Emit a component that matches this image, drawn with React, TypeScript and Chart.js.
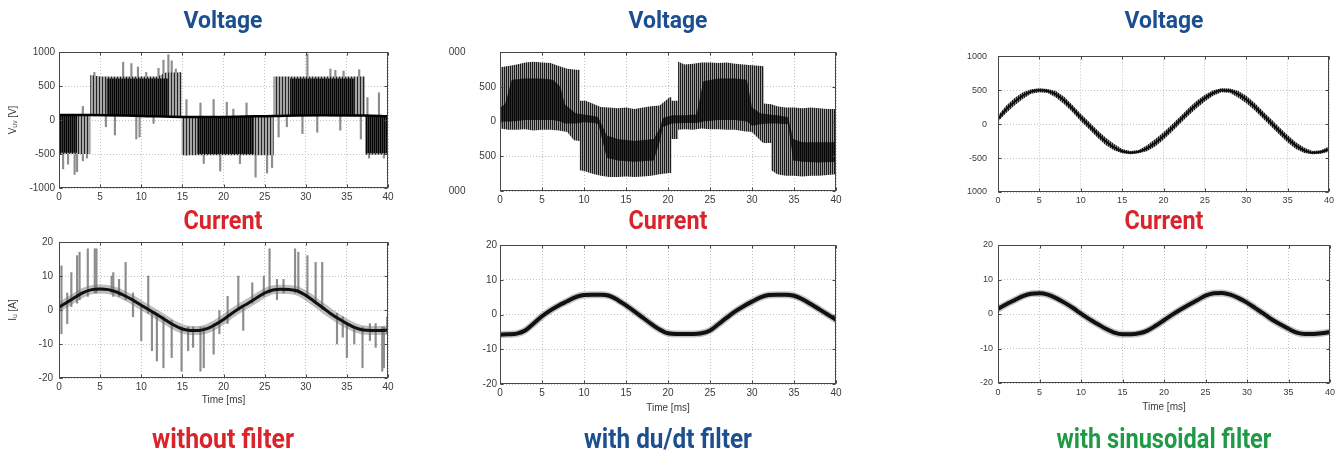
import React, { useEffect, useRef } from 'react';
import { Chart, registerables } from 'chart.js';

Chart.register(...registerables);

// ---------------- shared axis data ----------------
const timeTicks = [0, 5, 10, 15, 20, 25, 30, 35, 40];
const timeTickLabels = ['0', '5', '10', '15', '20', '25', '30', '35', '40'];
const voltTicks = [-1000, -500, 0, 500, 1000];
const voltTickLabelsLeft = ['-1000', '-500', '0', '500', '1000'];
const voltTickLabelsMid = ['000', '500', '0', '500', '000'];
const voltTickLabelsRight = ['1000', '-500', '0', '500', '1000'];
const currTicks = [-20, -10, 0, 10, 20];
const currTickLabels = ['-20', '-10', '0', '10', '20'];
const ms = [0, 1, 2, 3, 4, 5, 6, 7, 8, 9, 10, 11, 12, 13, 14, 15, 16, 17, 18, 19, 20,
  21, 22, 23, 24, 25, 26, 27, 28, 29, 30, 31, 32, 33, 34, 35, 36, 37, 38, 39, 40];

// ---------------- text ----------------
const voltageTitle = 'Voltage';
const currentTitle = 'Current';
const filterLabels = ['without filter', 'with du/dt filter', 'with sinusoidal filter'];
const timeTitle = 'Time [ms]';
const voltAxisTitle = 'V\u1D64\u1D65 [V]';
const currAxisTitle = 'I\u1D64 [A]';

// ---------------- panel 1: voltage, without filter ----------------
const p1OuterT = [0, 3.8, 3.8, 5, 12, 13, 14.9, 14.9, 26.1, 26.1, 37.2, 37.2, 40];
const p1OuterHi = [90, 90, 660, 640, 640, 700, 700, 50, 60, 640, 640, 70, 70];
const p1OuterLo = [-500, -500, 60, 60, 55, 50, 45, -520, -520, 60, 60, -510, -510];
const p1CoreT = [0, 2.2, 2.2, 5.8, 5.8, 13.3, 13.3, 16.8, 16.8, 23.7, 23.7, 28.1, 28.1, 35.9, 35.9, 37.3, 37.3, 40];
const p1CoreHi = [80, 80, 60, 60, 610, 610, 50, 50, 50, 50, 55, 55, 610, 610, 60, 60, 60, 60];
const p1CoreLo = [-480, -480, 60, 60, 60, 60, 50, 50, -500, -500, 55, 55, 60, 60, 60, 60, -490, -490];
const p1BaseT = [0, 3.8, 10, 14.9, 20, 26.1, 32, 37.2, 40];
const p1BaseV = [75, 75, 60, 45, 45, 60, 70, 65, 55];
const p1SpikeT = [0.5, 1.1, 1.9, 2.2, 2.9, 3.4, 4.3, 5.7, 6.8, 7.8, 8.8, 9.4, 9.6, 9.8, 10.6, 11.5, 12.1, 12.7, 13.3, 13.7,
  14.2, 14.7, 15.5, 17.2, 17.6, 18.8, 19.6, 20.4, 21.2, 22.0, 22.8, 23.9, 25.3, 25.9, 26.7, 27.7, 29.6, 30.2, 31.4, 33.0,
  33.6, 34.2, 34.6, 36.5, 36.7, 37.5, 37.7, 38.9, 39.5];
const p1SpikeLo = [-720, -650, -800, -760, -600, -560, 60, -100, -220, 60, 60, -280, 60, -250, 60, -50, 60, 60, 60, 60,
  60, 60, -520, -500, -640, -500, -750, -500, -500, -640, -500, -840, -780, -700, -250, -100, -200, 60, -180, 60,
  60, -150, 60, 60, -280, -500, -560, -500, -560];
const p1SpikeHi = [80, 80, 80, 80, 200, 80, 700, 60, 60, 850, 830, 60, 780, 60, 700, 60, 760, 880, 960, 870,
  750, 700, 300, 250, 50, 300, 50, 260, 160, 50, 250, 50, 50, 50, 60, 60, 60, 970, 60, 750,
  730, 60, 720, 740, 60, 330, 60, 400, 60];

// ---------------- panel 2: voltage, du/dt filter ----------------
const p2OuterT = [0, 1, 2, 3, 4, 5, 6, 7, 8, 8.8, 9.5, 9.5, 10.2, 11, 12, 13, 14, 15, 16, 17,
  18, 19, 20.2, 20.4, 20.4, 21.2, 21.2, 22, 23, 24, 25, 26, 27, 28, 29, 30, 31.2, 31.4, 31.4, 32.3,
  32.3, 33, 34, 35, 36, 37, 38, 39, 40];
const p2OuterHi = [780, 800, 820, 850, 860, 850, 840, 800, 760, 750, 740, 300, 300, 260, 210, 200, 190, 200, 180, 200,
  220, 230, 350, 350, 300, 300, 860, 820, 830, 850, 850, 840, 850, 830, 820, 810, 800, 790, 260, 250,
  250, 220, 200, 200, 190, 200, 190, 180, 180];
const p2OuterLo = [-100, -120, -120, -110, -130, -120, -120, -130, -150, -270, -280, -700, -720, -750, -780, -800, -800, -790, -800, -790,
  -780, -760, -740, -740, -250, -250, -120, -110, -120, -100, -110, -110, -120, -120, -140, -150, -300, -310, -310, -310,
  -700, -760, -780, -780, -790, -780, -780, -770, -760];
const p2CoreT = [0, 0.6, 1.4, 3, 5, 6.3, 7.2, 7.7, 9, 10, 11.2, 11.7, 12.7, 14, 16, 18.3, 19, 19.4, 20.5, 22,
  23.4, 24.2, 26, 28, 29.4, 30, 31, 32, 33, 34.3, 34.9, 36, 38, 40];
const p2CoreHi = [200, 250, 600, 620, 620, 600, 500, 250, 120, 100, 80, 60, -200, -250, -280, -250, -100, 50, 90, 90,
  100, 580, 620, 620, 600, 200, 120, 100, 90, 60, -250, -300, -300, -300];
const p2CoreLo = [0, 0, 0, 20, 20, 20, 0, -30, -30, -10, -20, -40, -520, -560, -580, -560, -300, -80, -30, -20,
  -20, 0, 20, 20, 0, -60, -40, -30, -30, -40, -560, -580, -590, -580];

// ---------------- panel 3: voltage, sinusoidal filter ----------------
const p3Mid = [80, 220, 330, 420, 480, 500, 490, 440, 350, 230, 100, -20, -140, -250, -340, -400, -420, -405, -355, -275,
  -175, -60, 60, 180, 290, 385, 460, 500, 495, 445, 365, 260, 140, 20, -100, -215, -315, -385, -420, -410, -370];
const p3Hi = [130, 275, 385, 470, 515, 530, 520, 490, 405, 285, 155, 35, -85, -195, -290, -365, -395, -380, -310, -220,
  -120, -5, 115, 235, 345, 435, 500, 530, 525, 495, 420, 315, 195, 75, -45, -160, -265, -345, -395, -385, -330];
const p3Lo = [40, 165, 275, 370, 450, 470, 460, 395, 295, 175, 45, -75, -195, -305, -385, -430, -445, -430, -400, -330,
  -230, -115, 5, 125, 235, 335, 420, 470, 465, 395, 310, 205, 85, -35, -155, -270, -365, -425, -445, -435, -405];

// ---------------- panel 4: current, without filter ----------------
const p4Cur = [0.8, 2.3, 3.8, 5.2, 6.0, 6.2, 6.0, 5.3, 4.2, 2.9, 1.4, 0.0, -1.5, -3.0, -4.5, -5.6, -6.0, -6.0, -5.5, -4.3,
  -2.8, -1.0, 0.6, 2.0, 3.5, 5.0, 5.9, 6.1, 6.0, 5.6, 4.3, 2.6, 0.8, -1.0, -2.6, -4.0, -5.2, -5.9, -6.0, -6.0, -5.9];
const p4SpikeT = [0.3, 1.0, 1.5, 2.2, 2.5, 3.5, 4.35, 4.55, 6.4, 6.6, 7.3, 8.1, 9.0, 10.0, 10.85, 11.3, 11.9, 12.7, 13.7, 14.9,
  15.7, 16.3, 17.2, 17.6, 18.8, 19.5, 20.5, 21.8, 22.4, 23.5, 24.9, 25.6, 26.5, 27.3, 28.7, 29.1, 30.2, 31.2, 32.0, 33.8,
  34.5, 35.0, 35.9, 36.9, 37.8, 38.5, 39.3, 39.5, 39.9];
const p4SpikeLo = [-7, -4, 1, 2, 3, 4, 5, 5, 5, 4, 4, 3, -2, -9, -1, -12, -15, -17, -14, -18,
  -12, -11, -18, -17, -13, -7, -4, 0, -6, 2, 4, 5, 3, 5, 5, 5, 4, 2, 0, -10,
  -8, -14, -10, -17, -9, -11, -18, -17, -7];
const p4SpikeHi = [13, 5, 11, 16, 17, 18, 18, 18, 10, 11, 9, 14, 5, 1, 10, 0, -1, -2, -3, -5,
  -5, -5, -5, -5, -4, 0, 4, 10, 1, 8, 10, 18, 9, 9, 18, 17, 16, 14, 14, -1,
  -2, -4, -5, -5, -4, -4, -5, -5, -2];

// ---------------- panel 5: current, du/dt filter ----------------
const p5Cur = [-5.8, -5.7, -5.5, -4.6, -2.6, -0.5, 1.2, 2.6, 3.8, 5.0, 5.6, 5.7, 5.7, 5.4, 4.2, 2.6, 0.9, -0.9, -2.7, -4.3,
  -5.4, -5.6, -5.6, -5.6, -5.4, -4.6, -2.8, -0.9, 0.9, 2.4, 3.7, 4.9, 5.6, 5.7, 5.7, 5.4, 4.4, 3.0, 1.5, 0.0, -1.5];

// ---------------- panel 6: current, sinusoidal filter ----------------
const p6Cur = [1.5, 2.8, 4.0, 5.2, 5.9, 6.0, 5.6, 4.6, 3.3, 1.8, 0.1, -1.5, -2.9, -4.3, -5.4, -5.9, -5.9, -5.6, -4.8, -3.4,
  -1.8, -0.2, 1.3, 2.7, 4.0, 5.3, 6.0, 6.1, 5.6, 4.6, 3.3, 1.7, 0.1, -1.6, -3.0, -4.3, -5.4, -5.8, -5.8, -5.6, -5.2];

// ---------------- styling ----------------
const FONT = '"Liberation Sans", Arial, Helvetica, sans-serif';
const TITLE_FONT = 'Roboto, "Open Sans", sans-serif';
const TICK = '#3a3a3a';
const GRID = '#c2c2c2';
const BLUE = '#1b4f8e';
const RED = '#d9242b';
const GREEN = '#1f9a47';

// hatch descriptors: [background, stripe colour, period px, stripe width px]
type Hatch = [string, string, number, number];
const hatchP1Outer: Hatch = ['#a6a6a6', '#262626', 3, 1];
const hatchP1Core: Hatch = ['#3c3c3c', '#050505', 2, 1];
const hatchP2Outer: Hatch = ['#9c9c9c', '#1c1c1c', 2, 1];
const hatchP2Core: Hatch = ['#2e2e2e', '#050505', 2, 1];
const hatchP3: Hatch = ['#8a8a8a', '#1a1a1a', 2, 1];

const patternCache = new Map<string, any>();
function hatchFill(h: Hatch) {
  const key = h.join('|');
  return () => {
    if (patternCache.has(key)) return patternCache.get(key);
    const c = document.createElement('canvas');
    c.width = h[2];
    c.height = 4;
    const g = c.getContext('2d')!;
    g.fillStyle = h[0];
    g.fillRect(0, 0, h[2], 4);
    g.fillStyle = h[1];
    g.fillRect(0, 0, h[3], 4);
    const p = g.createPattern(c, 'repeat');
    patternCache.set(key, p);
    return p;
  };
}

const pts = (t: number[], v: number[]) => t.map((x, i) => ({ x, y: v[i] }));

const band = (t: number[], hi: number[], lo: number[], hatch: Hatch, order: number) => [
  { type: 'line', data: pts(t, hi), borderColor: 'rgba(0,0,0,0)', borderWidth: 0, pointRadius: 0, fill: false, order, tension: 0, clip: 0 },
  { type: 'line', data: pts(t, lo), borderColor: 'rgba(0,0,0,0)', borderWidth: 0, pointRadius: 0, fill: '-1', backgroundColor: hatchFill(hatch), order, tension: 0, clip: 0 },
];

const curve = (t: number[], v: number[], color: string, width: number, order: number) => ({
  type: 'line', data: pts(t, v), borderColor: color, borderWidth: width, pointRadius: 0, fill: false, order,
  cubicInterpolationMode: 'monotone', clip: 0, borderJoinStyle: 'round', borderCapStyle: 'round',
});

const spikes = (t: number[], lo: number[], hi: number[], color: string, thick: number, order: number) => ({
  type: 'bar', data: t.map((x, i) => ({ x, y: [lo[i], hi[i]] })), backgroundColor: color, borderWidth: 0,
  barThickness: thick, order, clip: 0,
});

type PanelSpec = {
  box: number[]; // left, top, width, height (page px)
  plot: number[]; // left, top, right, bottom (page px)
  yTicks: number[];
  yLabels: string[];
  yLabelSuffix?: string[];
  yTitle?: string;
  xTitle?: string;
  fontSize: number;
  yPad: number;
  xPad: number;
  datasets: any[];
};

const midShift = '           ';

const panels: PanelSpec[] = [
  {
    box: [0, 40, 400, 178], plot: [59, 52, 388, 188], yTicks: voltTicks, yLabels: voltTickLabelsLeft,
    yTitle: voltAxisTitle, fontSize: 10, yPad: 4, xPad: 3,
    datasets: [
      spikes(p1SpikeT, p1SpikeLo, p1SpikeHi, '#8d8d8d', 1.5, 10),
      ...band(p1OuterT, p1OuterHi, p1OuterLo, hatchP1Outer, 8),
      ...band(p1CoreT, p1CoreHi, p1CoreLo, hatchP1Core, 6),
      curve(p1BaseT, p1BaseV, '#000000', 2.5, 1),
    ],
  },
  {
    box: [440, 40, 410, 181], plot: [500, 52, 836, 191], yTicks: voltTicks, yLabels: voltTickLabelsMid,
    yLabelSuffix: [midShift, '', '', '', midShift], fontSize: 10, yPad: 4, xPad: 3,
    datasets: [
      ...band(p2OuterT, p2OuterHi, p2OuterLo, hatchP2Outer, 8),
      ...band(p2CoreT, p2CoreHi, p2CoreLo, hatchP2Core, 6),
    ],
  },
  {
    box: [940, 40, 404, 182], plot: [998, 54, 1329, 192], yTicks: voltTicks, yLabels: voltTickLabelsRight,
    fontSize: 9, yPad: 11, xPad: 3,
    datasets: [
      ...band(ms, p3Hi, p3Lo, hatchP3, 6),
      curve(ms, p3Mid, '#0d0d0d', 2, 1),
    ],
  },
  {
    box: [0, 230, 400, 178], plot: [59, 242, 388, 378], yTicks: currTicks, yLabels: currTickLabels,
    yTitle: currAxisTitle, xTitle: timeTitle, fontSize: 10, yPad: 6, xPad: 3,
    datasets: [
      spikes(p4SpikeT, p4SpikeLo, p4SpikeHi, '#8d8d8d', 1.5, 10),
      curve(ms, p4Cur, 'rgba(110,110,110,0.45)', 9, 5),
      curve(ms, p4Cur, '#111111', 3, 1),
    ],
  },
  {
    box: [440, 230, 410, 186], plot: [500, 245, 836, 384], yTicks: currTicks, yLabels: currTickLabels,
    xTitle: timeTitle, fontSize: 10, yPad: 3, xPad: 3,
    datasets: [
      curve(ms, p5Cur, 'rgba(60,60,60,0.3)', 7, 5),
      curve(ms, p5Cur, '#111111', 4, 1),
    ],
  },
  {
    box: [940, 230, 404, 185], plot: [998, 245, 1330, 383], yTicks: currTicks, yLabels: currTickLabels,
    xTitle: timeTitle, fontSize: 9, yPad: 5, xPad: 4,
    datasets: [
      curve(ms, p6Cur, 'rgba(60,60,60,0.3)', 7, 5),
      curve(ms, p6Cur, '#111111', 4, 1),
    ],
  },
];

const framePlugin = {
  id: 'frame',
  afterDatasetsDraw(chart: any) {
    const { ctx, chartArea: a } = chart;
    const xs = chart.scales.x;
    const ys = chart.scales.y;
    const L = Math.round(a.left) + 0.5;
    const R = Math.round(a.right) - 0.5;
    const T = Math.round(a.top) + 0.5;
    const B = Math.round(a.bottom) - 0.5;
    ctx.save();
    ctx.strokeStyle = '#474747';
    ctx.lineWidth = 1;
    ctx.strokeRect(L, T, R - L, B - T);
    ctx.beginPath();
    xs.ticks.forEach((tk: any) => {
      const p = Math.round(xs.getPixelForValue(tk.value)) + 0.5;
      ctx.moveTo(p, B); ctx.lineTo(p, B - 3);
      ctx.moveTo(p, T); ctx.lineTo(p, T + 3);
    });
    ys.ticks.forEach((tk: any) => {
      const p = Math.round(ys.getPixelForValue(tk.value)) + 0.5;
      ctx.moveTo(L, p); ctx.lineTo(L + 3, p);
      ctx.moveTo(R, p); ctx.lineTo(R - 3, p);
    });
    ctx.stroke();
    ctx.restore();
  },
};

function makeConfig(s: PanelSpec) {
  const [bl, bt, bw, bh] = s.box;
  const [pl, pt, pr, pb] = s.plot;
  const yAxisW = pl - bl;
  const padTop = pt - bt;
  const padRight = bl + bw - pr;
  const xAxisH = bt + bh - pb;
  const tickFont = { family: FONT, size: s.fontSize };
  return {
    type: 'line',
    data: { datasets: s.datasets },
    options: {
      animation: false,
      responsive: false,
      devicePixelRatio: 1,
      events: [],
      layout: { padding: { top: padTop, right: padRight, left: 0, bottom: 0 } },
      plugins: { legend: { display: false }, tooltip: { enabled: false } },
      scales: {
        x: {
          type: 'linear', position: 'bottom', offset: false,
          min: timeTicks[0], max: timeTicks[timeTicks.length - 1],
          afterBuildTicks: (sc: any) => { sc.ticks = timeTicks.map((v) => ({ value: v })); },
          afterFit: (sc: any) => { sc.height = xAxisH; },
          ticks: {
            autoSkip: false, maxRotation: 0, minRotation: 0, padding: s.xPad, color: TICK, font: tickFont,
            callback: (_v: any, i: number) => timeTickLabels[i],
          },
          grid: { color: GRID, lineWidth: 1, drawTicks: false, offset: false },
          border: { display: false, dash: [1, 2] },
          title: s.xTitle
            ? { display: true, text: s.xTitle, color: TICK, font: { family: FONT, size: 10 }, padding: { top: 0, bottom: 2 } }
            : { display: false },
        },
        y: {
          type: 'linear', position: 'left', min: s.yTicks[0], max: s.yTicks[s.yTicks.length - 1],
          afterBuildTicks: (sc: any) => { sc.ticks = s.yTicks.map((v) => ({ value: v })); },
          afterFit: (sc: any) => { sc.width = yAxisW; },
          ticks: {
            autoSkip: false, padding: s.yPad, color: TICK, font: tickFont,
            callback: (_v: any, i: number) => s.yLabels[i] + (s.yLabelSuffix ? s.yLabelSuffix[i] : ''),
          },
          grid: { color: GRID, lineWidth: 1, drawTicks: false },
          border: { display: false, dash: [1, 2] },
          title: s.yTitle
            ? { display: true, text: s.yTitle, color: TICK, font: { family: FONT, size: 10 }, padding: { top: 7, bottom: 0 } }
            : { display: false },
        },
      },
    },
    plugins: [framePlugin],
  };
}

function ChartPanel({ spec }: { spec: PanelSpec }) {
  const ref = useRef<HTMLCanvasElement | null>(null);
  useEffect(() => {
    if (!ref.current) return;
    const chart = new Chart(ref.current, makeConfig(spec) as any);
    return () => chart.destroy();
  }, [spec]);
  const [l, t, w, h] = spec.box;
  return (
    <div style={{ position: 'absolute', left: l, top: t, width: w, height: h }}>
      <canvas ref={ref} width={w} height={h} style={{ display: 'block', width: w, height: h }} />
    </div>
  );
}

const colCenters = [223, 668, 1164];
const filterColors = [RED, BLUE, GREEN];
const filterWidths = [142, 168, 215];

export default function App() {
  return (
    <div style={{ position: 'absolute', left: 0, top: 0, width: 1344, height: 456, background: '#ffffff', overflow: 'hidden' }}>
      {panels.map((p, i) => <ChartPanel key={i} spec={p} />)}
      <svg width={1344} height={456} style={{ position: 'absolute', left: 0, top: 0, pointerEvents: 'none' }}>
        {colCenters.map((cx, i) => (
          <text key={'v' + i} x={cx} y={28} textAnchor="middle" textLength={79} lengthAdjust="spacingAndGlyphs"
            fill={BLUE} fontFamily={TITLE_FONT} fontWeight={700} fontSize={24}>{voltageTitle}</text>
        ))}
        {colCenters.map((cx, i) => (
          <text key={'c' + i} x={cx} y={229} textAnchor="middle" textLength={79} lengthAdjust="spacingAndGlyphs"
            fill={RED} fontFamily={TITLE_FONT} fontWeight={700} fontSize={25}>{currentTitle}</text>
        ))}
        {colCenters.map((cx, i) => (
          <text key={'f' + i} x={cx} y={448} textAnchor="middle" textLength={filterWidths[i]} lengthAdjust="spacingAndGlyphs"
            fill={filterColors[i]} fontFamily={TITLE_FONT} fontWeight={700} fontSize={27}>{filterLabels[i]}</text>
        ))}
      </svg>
    </div>
  );
}
